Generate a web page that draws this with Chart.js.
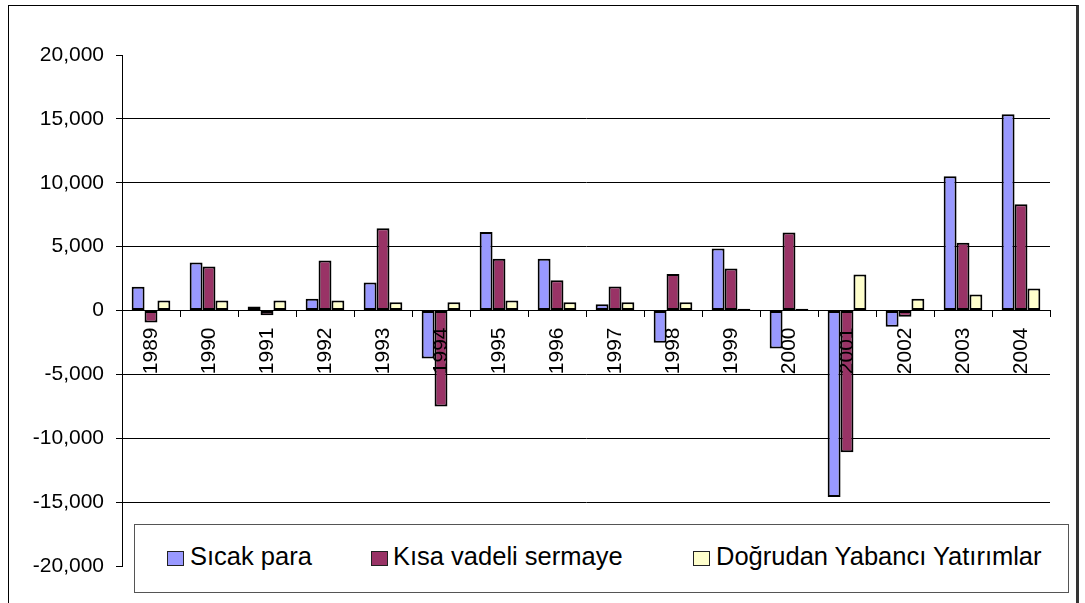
<!DOCTYPE html>
<html>
<head>
<meta charset="utf-8">
<script src="https://cdn.jsdelivr.net/npm/chart.js@4/dist/chart.umd.min.js"></script>
<style>
  html, body { margin:0; padding:0; background:#fff; width:1085px; height:603px; overflow:hidden; }
  #frame { position:absolute; left:8px; top:5px; width:1071px; height:640px; border:1.5px solid #000; border-right:3px solid #333; box-sizing:border-box; }
  #wrap { position:absolute; left:0; top:0; width:1085px; height:603px; }
  #legend { position:absolute; left:134px; top:524px; width:935px; height:69px; box-sizing:border-box; border:1.5px solid #555; background:#fff; z-index:5; font-family:"Liberation Sans", Arial, sans-serif; font-size:25.5px; color:#000; }
  .item { position:absolute; top:0; height:66px; line-height:66px; white-space:nowrap; }
  .mk { position:absolute; top:26px; width:15px; height:13px; border:1.8px solid #222; box-sizing:content-box; }
  .tx { position:absolute; top:-2px; }
</style>
</head>
<body>
<div id="frame"></div>
<div id="wrap"><canvas id="c" width="1085" height="603"></canvas></div>
<div id="legend"></div>
<script>
const categories = ["1989","1990","1991","1992","1993","1994","1995","1996","1997","1998","1999","2000","2001","2002","2003","2004"];
const seriesNames = ["Sıcak para","Kısa vadeli sermaye","Doğrudan Yabancı Yatırımlar"];
const sicakPara = [1850, 3760, 310, 920, 2190, -3760, 6140, 4050, 490, -2530, 4860, -2980, -14600, -1280, 10500, 15360];
const kisaVadeli = [-940, 3450, -370, 3920, 6430, -7520, 4050, 2370, 1880, 2850, 3290, 6110, -11100, -490, 5300, 8310];
const dogrudanYatirim = [780, 780, 780, 780, 650, 650, 780, 650, 650, 650, 130, 130, 2820, 920, 1250, 1720];
const yTickValues = [-20000, -15000, -10000, -5000, 0, 5000, 10000, 15000, 20000];
const seriesColors = ["#9999FF", "#993366", "#FFFFCC"];

const seriesData = [sicakPara, kisaVadeli, dogrudanYatirim];

const FONT = "'Liberation Sans', Arial, sans-serif";

const chart = new Chart(document.getElementById('c'), {
  type: 'bar',
  data: {
    labels: categories,
    datasets: seriesNames.map((n, i) => ({
      label: n,
      data: seriesData[i],
      backgroundColor: seriesColors[i],
      borderColor: '#000',
      borderWidth: 2,
      borderSkipped: false,
      categoryPercentage: 0.667,
      barPercentage: 1.0
    }))
  },
  options: {
    responsive: false,
    animation: false,
    devicePixelRatio: 1,
    layout: { padding: { left: 0, top: 55, right: 35, bottom: 37 } },
    plugins: { legend: { display: false }, tooltip: { enabled: false } },
    scales: {
      x: {
        position: { y: 0 },
        afterFit: (s) => { s.height = 0; },
        grid: { drawOnChartArea: false, drawTicks: true, tickLength: 6, color: '#000', lineWidth: 1, offset: true },
        border: { display: true, color: '#000', width: 1 },
        ticks: { z: 2, autoSkip: false, minRotation: 90, maxRotation: 90, padding: 11, color: '#000', font: { family: FONT, size: 21 } }
      },
      y: {
        min: -20000, max: 20000,
        afterFit: (s) => { s.width = 122; },
        afterBuildTicks: (s) => { s.ticks = yTickValues.map(v => ({ value: v })); },
        grid: {
          color: (ctx) => (ctx.tick && Math.abs(ctx.tick.value) === 20000) ? 'rgba(0,0,0,0)' : '#000',
          tickColor: '#000', lineWidth: 1, drawTicks: true, tickLength: 6
        },
        border: { display: true, color: '#000', width: 1 },
        ticks: {
          padding: 12, color: '#000', font: { family: FONT, size: 21 },
          callback: (v) => Number(v).toLocaleString('en-US')
        }
      }
    }
  }
});

// HTML legend (real text)
const legendPos = [ {mk: 32, tx: 55}, {mk: 236, tx: 258}, {mk: 558, tx: 581} ];
const lg = document.getElementById('legend');
seriesNames.forEach((n, i) => {
  const mk = document.createElement('div');
  mk.className = 'mk';
  mk.style.left = legendPos[i].mk + 'px';
  mk.style.background = seriesColors[i];
  lg.appendChild(mk);
  const tx = document.createElement('div');
  tx.className = 'item tx';
  tx.style.left = legendPos[i].tx + 'px';
  tx.textContent = n;
  lg.appendChild(tx);
});
</script>
</body>
</html>
